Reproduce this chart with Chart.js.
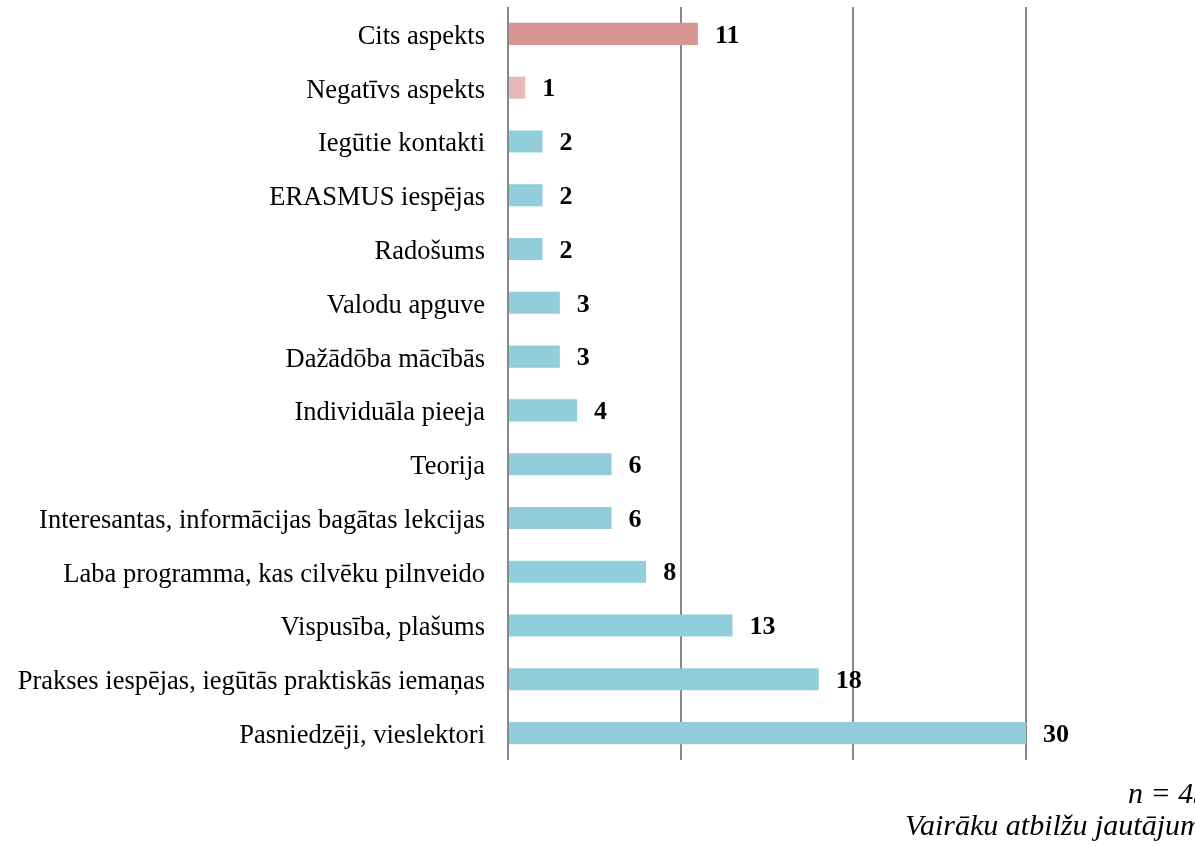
<!DOCTYPE html>
<html>
<head>
<meta charset="utf-8">
<script src="https://cdn.jsdelivr.net/npm/chart.js@4.4.1/dist/chart.umd.min.js"></script>
<style>
  html, body { margin: 0; padding: 0; background: #fff; overflow: hidden; }
  #wrap { position: relative; width: 1195px; height: 846px; overflow: hidden; }
  .note { position: absolute; font-family: "Liberation Serif", "Times New Roman", serif; font-style: italic; font-size: 30px; line-height: 1; color: #000; white-space: nowrap; }
</style>
</head>
<body>
<div id="wrap">
  <canvas id="myChart" width="1195" height="846"></canvas>
  <div class="note" style="left:1128px; top:778px;">n = 45</div>
  <div class="note" style="left:905px; top:810px;">Vairāku atbilžu jautājums</div>
</div>
<script>
const categories = [
    "Cits aspekts",
    "Negatīvs aspekts",
    "Iegūtie kontakti",
    "ERASMUS iespējas",
    "Radošums",
    "Valodu apguve",
    "Dažādōba mācībās",
    "Individuāla pieeja",
    "Teorija",
    "Interesantas, informācijas bagātas lekcijas",
    "Laba programma, kas cilvēku pilnveido",
    "Vispusība, plašums",
    "Prakses iespējas, iegūtās praktiskās iemaņas",
    "Pasniedzēji, vieslektori"
];
const counts = [11, 1, 2, 2, 2, 3, 3, 4, 6, 6, 8, 13, 18, 30];
const xTicks = [0, 10, 20, 30];

const barColors = counts.map((v, i) => i === 0 ? "#d99594" : (i === 1 ? "#e6b9b8" : "#92cddc"));

const valueLabels = {
    id: "valueLabels",
    afterDatasetsDraw(chart) {
        const ctx = chart.ctx;
        const meta = chart.getDatasetMeta(0);
        ctx.save();
        ctx.font = "bold 26px 'Liberation Serif', serif";
        ctx.fillStyle = "#000";
        ctx.textAlign = "left";
        ctx.textBaseline = "middle";
        meta.data.forEach((bar, i) => {
            ctx.fillText(String(counts[i]), bar.x + 17, bar.y + 2);
        });
        ctx.restore();
    }
};

const ctx = document.getElementById("myChart").getContext("2d");
const chart = new Chart(ctx, {
    type: "bar",
    data: {
        labels: categories,
        datasets: [{
            data: counts,
            backgroundColor: barColors,
            borderWidth: 0,
            barPercentage: 0.41,
            categoryPercentage: 1.0
        }]
    },
    options: {
        indexAxis: "y",
        responsive: false,
        animation: false,
        layout: { padding: { top: 7, bottom: 86, right: 169, left: 0 } },
        plugins: {
            legend: { display: false },
            tooltip: { enabled: false }
        },
        scales: {
            x: {
                min: 0,
                max: 30,
                afterBuildTicks: (scale) => { scale.ticks = xTicks.map(v => ({ value: v })); },
                ticks: { display: false },
                grid: { color: "#888888", lineWidth: 2, drawTicks: false },
                border: { display: false }
            },
            y: {
                afterFit: (scale) => {
                    scale.width = 508;
                    scale.paddingTop = 0;
                    scale.paddingBottom = 0;
                },
                grid: { display: false, drawTicks: false },
                border: { display: false },
                ticks: {
                    color: "#000",
                    padding: 23,
                    labelOffset: 3,
                    font: { family: "'Liberation Serif', serif", size: 26.5 }
                }
            }
        }
    },
    plugins: [valueLabels]
});
</script>
</body>
</html>
